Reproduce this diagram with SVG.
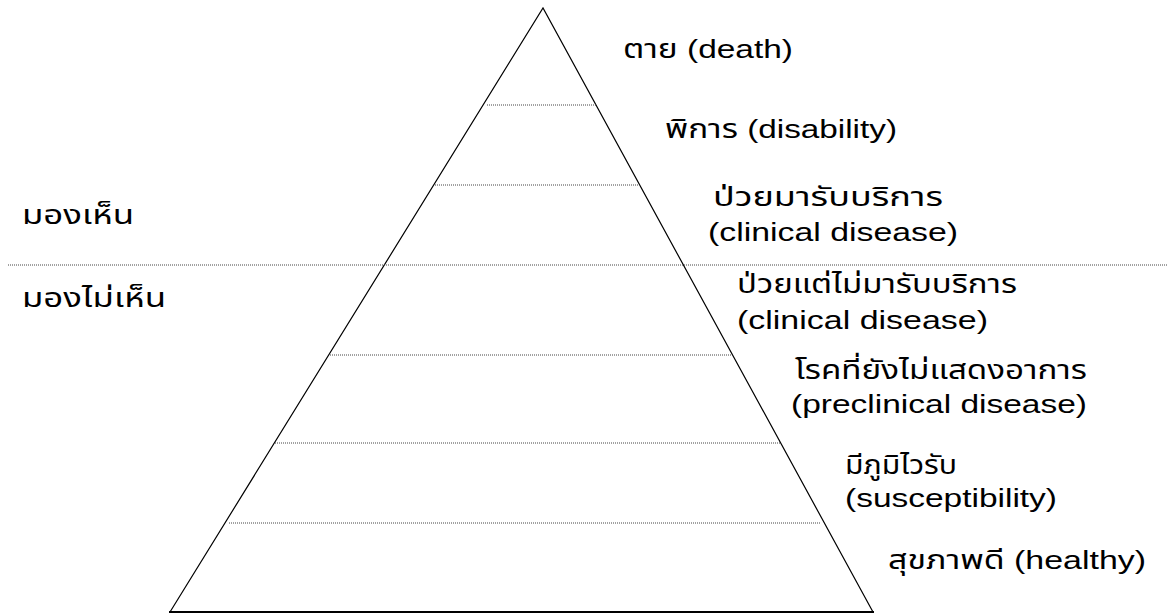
<svg xmlns="http://www.w3.org/2000/svg" width="1168" height="614" viewBox="0 0 1168 614">
  <style>
    .lbl { font-family: "Liberation Sans", "Noto Sans Thai", "Noto Sans", "DejaVu Sans", sans-serif; font-size: 26px; fill: #000; }
    .dot { stroke: #444; stroke-width: 1; stroke-dasharray: 1 1; fill: none; }
    .edge { stroke: #000; stroke-width: 1.2; fill: none; }
  </style>
  <rect width="1168" height="614" fill="#fff"/>
  <g id="pyramid">
    <path class="edge" d="M170,612 L543,8 L873,612"/>
    <line x1="169" y1="612" x2="874" y2="612" stroke="#000" stroke-width="1.8"/>
  </g>
  <g id="dividers">
    <line class="dot" x1="487" y1="105" x2="596" y2="105"/>
    <line class="dot" x1="435" y1="185" x2="639" y2="185"/>
    <line class="dot" x1="8" y1="265" x2="1168" y2="265"/>
    <line class="dot" x1="330" y1="355" x2="732" y2="355"/>
    <line class="dot" x1="275" y1="443" x2="780" y2="443"/>
    <line class="dot" x1="229" y1="523" x2="820" y2="523"/>
  </g>
  <g id="level-death">
    <text class="lbl" x="623" y="58" textLength="170" lengthAdjust="spacingAndGlyphs">ตาย (death)</text>
  </g>
  <g id="level-disability">
    <text class="lbl" x="665" y="138" textLength="232" lengthAdjust="spacingAndGlyphs">พิการ (disability)</text>
  </g>
  <g id="level-clinical-served">
    <text class="lbl" x="713" y="206" textLength="230" lengthAdjust="spacingAndGlyphs">ป่วยมารับบริการ</text>
    <text class="lbl" x="708" y="241" textLength="250" lengthAdjust="spacingAndGlyphs">(clinical disease)</text>
  </g>
  <g id="level-clinical-unserved">
    <text class="lbl" x="737" y="293" textLength="280" lengthAdjust="spacingAndGlyphs">ป่วยแต่ไม่มารับบริการ</text>
    <text class="lbl" x="737" y="329" textLength="251" lengthAdjust="spacingAndGlyphs">(clinical disease)</text>
  </g>
  <g id="level-preclinical">
    <text class="lbl" x="795" y="379" textLength="292" lengthAdjust="spacingAndGlyphs">โรคที่ยังไม่แสดงอาการ</text>
    <text class="lbl" x="791" y="413" textLength="296" lengthAdjust="spacingAndGlyphs">(preclinical disease)</text>
  </g>
  <g id="level-susceptibility">
    <text class="lbl" x="845" y="474" textLength="112" lengthAdjust="spacingAndGlyphs">มีภูมิไวรับ</text>
    <text class="lbl" x="845" y="507" textLength="212" lengthAdjust="spacingAndGlyphs">(susceptibility)</text>
  </g>
  <g id="level-healthy">
    <text class="lbl" x="888" y="569" textLength="258" lengthAdjust="spacingAndGlyphs">สุขภาพดี (healthy)</text>
  </g>
  <g id="visible">
    <text class="lbl" x="22" y="224" textLength="112" lengthAdjust="spacingAndGlyphs">มองเห็น</text>
  </g>
  <g id="invisible">
    <text class="lbl" x="22" y="307" textLength="144" lengthAdjust="spacingAndGlyphs">มองไม่เห็น</text>
  </g>
</svg>
